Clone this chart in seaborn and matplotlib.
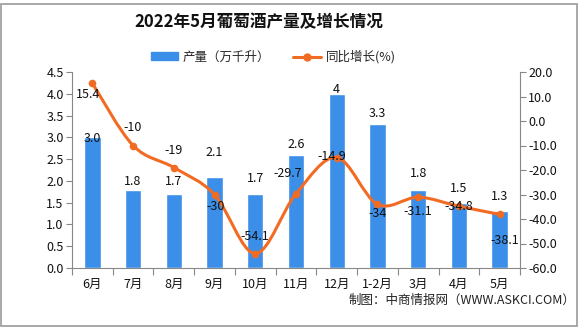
import numpy as np
import pandas as pd
import matplotlib
matplotlib.use("Agg")
import matplotlib.pyplot as plt
import seaborn as sns
from matplotlib.path import Path
from matplotlib.patches import PathPatch, Rectangle
from matplotlib.lines import Line2D
from matplotlib.patches import Patch

categories = ["6月", "7月", "8月", "9月", "10月", "11月", "12月", "1-2月", "3月", "4月", "5月"]
output = [3.0, 1.8, 1.7, 2.1, 1.7, 2.6, 4.0, 3.3, 1.8, 1.5, 1.3]
output_labels = ["3.0", "1.8", "1.7", "2.1", "1.7", "2.6", "4", "3.3", "1.8", "1.5", "1.3"]
growth = [15.4, -10, -19, -30, -54.1, -29.7, -14.9, -34, -31.1, -34.8, -38.1]
growth_labels = ["15.4", "-10", "-19", "-30", "-54.1", "-29.7", "-14.9", "-34", "-31.1", "-34.8", "-38.1"]
left_ticks = [0.0, 0.5, 1.0, 1.5, 2.0, 2.5, 3.0, 3.5, 4.0, 4.5]
right_ticks = [-60, -50, -40, -30, -20, -10, 0, 10, 20]

# label offsets (pixels): style only
bar_dy = [-1, 8, 12, 24, 15, 10, 4, 11, 16, 14, 15]
line_dx = [-4, 0, 0, 1, 0, -8, -5, 0, 0, 0, 5]
line_dy = [-11, 18, 17, -12, 17, 20, 1, -9, -14, 0, -26]

BLUE = "#3b8fe8"
ORANGE = "#f26b22"
GRAY = "#888888"

sns.set_theme(style="white")
plt.rcParams['font.family'] = ['Noto Sans CJK SC', 'DejaVu Sans']
plt.rcParams['axes.unicode_minus'] = False

fig = plt.figure(figsize=(5.85, 3.27), dpi=100)
ax = fig.add_axes([72 / 585, 59 / 327, 448 / 585, 196 / 327])

df = pd.DataFrame({"cat": categories, "val": output})
sns.barplot(data=df, x="cat", y="val", ax=ax, color=BLUE, saturation=1, width=0.4)
ax.set_xlim(-0.5, len(categories) - 0.5)
ax.set_ylim(0, 4.5)
ax.set_yticks(left_ticks)
ax.set_yticklabels([f"{t:.1f}" for t in left_ticks])
ax.set_xlabel("")
ax.set_ylabel("")

px = 0.72  # pixels -> points
for i, (v, lab) in enumerate(zip(output, output_labels)):
    ax.annotate(lab, (i, v), xytext=(0, bar_dy[i] * px), textcoords="offset points",
                ha="center", va="center", fontsize=9, color="#111111")

ax2 = ax.twinx()
ax2.set_ylim(-60, 20)
ax2.set_yticks(right_ticks)
ax2.set_yticklabels([f"{t:.1f}" for t in right_ticks])

# smooth curve (Catmull-Rom through data points)
xs = np.arange(len(categories), dtype=float)
ys = np.array(growth, dtype=float)
P = np.column_stack([xs, ys])
Pe = np.vstack([P[0], P, P[-1]])
verts = [tuple(P[0])]
codes = [Path.MOVETO]
for k in range(len(P) - 1):
    p0, p1, p2, p3 = Pe[k], Pe[k + 1], Pe[k + 2], Pe[k + 3]
    c1 = p1 + (p2 - p0) / 6
    c2 = p2 - (p3 - p1) / 6
    verts += [tuple(c1), tuple(c2), tuple(p2)]
    codes += [Path.CURVE4] * 3
ax2.add_patch(PathPatch(Path(verts, codes), facecolor="none", edgecolor=ORANGE, lw=2.2, zorder=3))
sns.scatterplot(x=xs, y=ys, ax=ax2, color=ORANGE, s=30, edgecolor=ORANGE, linewidth=0, zorder=4)

for i, (v, lab) in enumerate(zip(growth, growth_labels)):
    ax2.annotate(lab, (i, v), xytext=(line_dx[i] * px, line_dy[i] * px), textcoords="offset points",
                 ha="center", va="center", fontsize=9, color="#111111", zorder=5)

# spines and ticks
for a in (ax, ax2):
    a.spines["top"].set_visible(False)
    for s in ("left", "right", "bottom"):
        a.spines[s].set_color(GRAY)
        a.spines[s].set_linewidth(0.8)
ax.spines["right"].set_visible(False)
ax2.spines["left"].set_visible(False)
ax2.spines["bottom"].set_visible(False)

ax.tick_params(axis="y", which="major", left=True, length=4, width=0.8, color=GRAY,
               labelsize=9, labelcolor="#111111", pad=2)
ax2.tick_params(axis="y", which="major", right=True, length=4, width=0.8, color=GRAY,
                labelsize=9, labelcolor="#111111", pad=2)
ax.set_xticks(np.arange(-0.5, len(categories) + 0.5, 1.0), minor=True)
ax.tick_params(axis="x", which="major", bottom=False, labelsize=9, labelcolor="#111111", pad=1)
ax.tick_params(axis="x", which="minor", bottom=True, length=5, width=0.8, color=GRAY)
ax2.grid(False)
ax.grid(False)

# title
fig.text(259 / 585, 1 - 22 / 327, "2022年5月葡萄酒产量及增长情况", ha="center", va="center",
         fontsize=12, fontweight="bold", color="#111111")

# legend
handles = [Patch(facecolor=BLUE, edgecolor=BLUE),
           Line2D([0], [0], color=ORANGE, lw=2.2, marker="o", markersize=5)]
fig.legend(handles, ["产量（万千升）", "同比增长(%)"], loc="center",
           bbox_to_anchor=(273 / 585, 1 - 57 / 327), ncol=2, frameon=False, fontsize=9,
           handlelength=2.2, handleheight=0.6, columnspacing=1.8, handletextpad=0.4)

# source
fig.text(575 / 585, 1 - 300 / 327, "制图：中商情报网（WWW.ASKCI.COM）", ha="right", va="center",
         fontsize=9, color="#222222")

# frame
fig.patches.append(Rectangle((1 / 585, 1 / 327), 576 / 585, 322 / 327, transform=fig.transFigure,
                             fill=False, edgecolor="#999999", lw=1.2))

fig.savefig("out.png", dpi=100)
